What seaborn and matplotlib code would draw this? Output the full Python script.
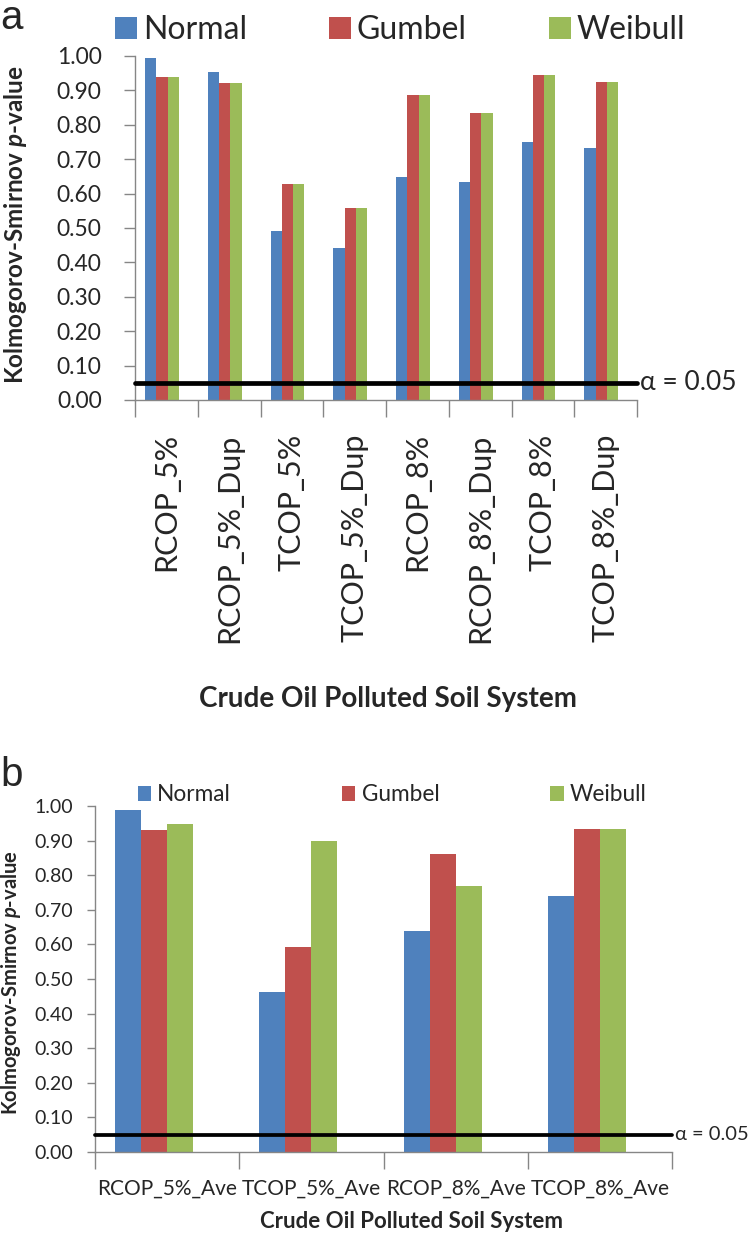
import numpy as np
import pandas as pd
import seaborn as sns
import matplotlib.pyplot as plt
import matplotlib.transforms as mtransforms
from matplotlib.patches import Patch

# panel a: single and duplicate samples
systems_a = ['RCOP_5%', 'RCOP_5%_Dup', 'TCOP_5%', 'TCOP_5%_Dup',
             'RCOP_8%', 'RCOP_8%_Dup', 'TCOP_8%', 'TCOP_8%_Dup']
normal_a = [0.995, 0.954, 0.490, 0.441, 0.647, 0.633, 0.749, 0.732]
gumbel_a = [0.940, 0.921, 0.628, 0.559, 0.886, 0.833, 0.946, 0.924]
weibull_a = [0.940, 0.921, 0.628, 0.559, 0.886, 0.833, 0.946, 0.924]

# panel b: averages
systems_b = ['RCOP_5%_Ave', 'TCOP_5%_Ave', 'RCOP_8%_Ave', 'TCOP_8%_Ave']
normal_b = [0.989, 0.462, 0.639, 0.740]
gumbel_b = [0.931, 0.593, 0.860, 0.933]
weibull_b = [0.948, 0.899, 0.769, 0.933]

dists = ['Normal', 'Gumbel', 'Weibull']
colors = ['#4F81BD', '#C0504D', '#9BBB59']
alpha_level = 0.05
yticks = np.arange(0, 1.01, 0.1)


def long_df(systems, normal, gumbel, weibull):
    rows = []
    for d, vals in zip(dists, [normal, gumbel, weibull]):
        for s, v in zip(systems, vals):
            rows.append({'system': s, 'dist': d, 'p': v})
    return pd.DataFrame(rows)


sns.set_style('white')
plt.rcParams['font.family'] = ['Lato', 'DejaVu Sans']
plt.rcParams['mathtext.fontset'] = 'custom'
plt.rcParams['mathtext.it'] = 'Lato:bold:italic'
plt.rcParams['mathtext.rm'] = 'Lato:bold'

W, H = 751, 1236
fig = plt.figure(figsize=(W / 100, H / 100), dpi=100)


def px_axes(x0, x1, y0, y1):
    # y0 = top pixel, y1 = bottom pixel
    return fig.add_axes([x0 / W, 1 - y1 / H, (x1 - x0) / W, (y1 - y0) / H])


def draw_panel(ax, df, systems, shift, sz):
    n = len(systems)
    sns.barplot(data=df, x='system', y='p', hue='dist', order=systems,
                hue_order=dists, palette=colors, saturation=1, width=0.54,
                linewidth=0, errorbar=None, ax=ax)
    ax.get_legend().remove()
    ax.set_ylim(0, 1)
    ax.set_xlim(-0.5 + shift, n - 0.5 + shift)
    ax.set_yticks(yticks)
    ax.set_yticklabels([f'{t:.2f}' for t in yticks])
    ax.set_xticks(np.arange(n + 1) - 0.5 + shift)
    ax.set_xticklabels([])
    ax.set_xticks(np.arange(n) + shift, minor=True)
    ax.set_xticklabels(systems, minor=True, rotation=sz['rot'],
                       fontsize=sz['cat'])
    ax.tick_params(axis='x', which='major', length=sz['xtick'], width=1,
                   color='#868686', direction='out', bottom=True)
    ax.tick_params(axis='x', which='minor', length=0, pad=sz['xpad'],
                   bottom=True)
    ax.tick_params(axis='y', length=sz['ytick'], width=1, color='#868686',
                   direction='out', left=True, labelsize=sz['tick'],
                   pad=sz['ypad'])
    for side in ['top', 'right']:
        ax.spines[side].set_visible(False)
    for side in ['left', 'bottom']:
        ax.spines[side].set_color('#868686')
        ax.spines[side].set_linewidth(1)
    ax.axhline(alpha_level, color='black', lw=sz['alw'], zorder=5,
               clip_on=False)
    tr = mtransforms.blended_transform_factory(ax.transAxes, ax.transData)
    ax.text(1.005, alpha_level, 'α = 0.05', transform=tr, ha='left',
            va='center', fontsize=sz['alpha'], family=['Lato', 'DejaVu Sans'])
    ax.set_xlabel('Crude Oil Polluted Soil System', fontsize=sz['lab'],
                  fontweight='bold')
    ax.set_ylabel('Kolmogorov-Smirnov $p$-value', fontsize=sz['ylab'],
                  fontweight='bold')
    handles = [Patch(facecolor=c, edgecolor='none') for c in colors]
    ax.legend(handles, dists, loc='center', bbox_to_anchor=sz['leg'],
              ncol=3, frameon=False, fontsize=sz['legfs'],
              handlelength=sz['hl'], handleheight=sz['hl'],
              handletextpad=sz['htp'], columnspacing=sz['cs'], borderpad=0)


ax_a = px_axes(135, 637, 56, 400)
draw_panel(ax_a, long_df(systems_a, normal_a, gumbel_a, weibull_a),
           systems_a, 0.07,
           dict(rot=90, cat=22, xtick=12, xpad=24, ytick=8, tick=16.5,
                ypad=16, alw=3.4, alpha=19, lab=20, ylab=17.5,
                leg=(0.528, 1.076), legfs=23, hl=0.69, htp=0.19, cs=2.56))
ax_a.xaxis.set_label_coords(0.504, -0.83)
ax_a.yaxis.set_label_coords(-0.211, 0.51)

ax_b = px_axes(95, 672, 806, 1152)
draw_panel(ax_b, long_df(systems_b, normal_b, gumbel_b, weibull_b),
           systems_b, 0.09,
           dict(rot=0, cat=15, xtick=12, xpad=19, ytick=6, tick=14,
                ypad=10, alw=2.7, alpha=14.5, lab=16, ylab=14.5,
                leg=(0.515, 1.032), legfs=16.3, hl=0.59, htp=0.27, cs=4.9))
ax_b.xaxis.set_label_coords(0.549, -0.17)
ax_b.yaxis.set_label_coords(-0.125, 0.49)

fig.text(0.0, 1 - 29 / H, 'a', fontsize=29, family='Liberation Sans',
         va='baseline', ha='left')
fig.text(0.0, 1 - 786 / H, 'b', fontsize=29, family='Liberation Sans',
         va='baseline', ha='left')

fig.savefig('out.png', dpi=100)
